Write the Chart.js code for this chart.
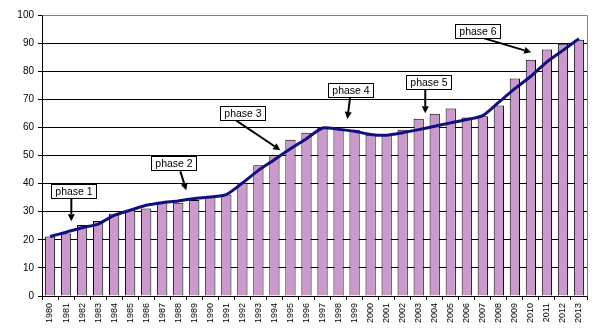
<!DOCTYPE html>
<html>
<head>
<meta charset="utf-8">
<script src="https://cdn.jsdelivr.net/npm/chart.js@4/dist/chart.umd.min.js"></script>
<style>
  html, body { margin: 0; padding: 0; background: #fff; }
  #wrap { width: 597px; height: 330px; position: relative; }
</style>
</head>
<body>
<div id="wrap"><canvas id="myChart"></canvas></div>
<script>
'use strict';

var years = ['1980', '1981', '1982', '1983', '1984', '1985', '1986', '1987', '1988', '1989',
	'1990', '1991', '1992', '1993', '1994', '1995', '1996', '1997', '1998', '1999',
	'2000', '2001', '2002', '2003', '2004', '2005', '2006', '2007', '2008', '2009',
	'2010', '2011', '2012', '2013'];

var yearly = [21.2, 22.2, 25.3, 26.7, 29.3, 30.7, 31.1, 33.5, 33.2, 34.2,
	35.2, 36.1, 40.3, 46.5, 50.1, 55.6, 58.1, 59.8, 59.6, 59.2,
	57.4, 57.2, 59.2, 63.1, 64.9, 66.7, 63.5, 64.0, 67.8, 77.4,
	84.1, 87.7, 89.8, 91.2];

var trend = [21.2, 22.7, 24.3, 25.6, 28.7, 30.5, 32.3, 33.2, 33.8, 34.7,
	35.2, 36.1, 40.2, 44.7, 48.5, 52.4, 56.0, 59.8, 59.3, 58.6,
	57.5, 57.2, 58.1, 59.2, 60.4, 61.6, 62.8, 64.2, 69.0, 73.8,
	78.2, 83.3, 87.4, 91.6];

var yTicks = [0, 10, 20, 30, 40, 50, 60, 70, 80, 90, 100];

var phaseNames = ['phase 1', 'phase 2', 'phase 3', 'phase 4', 'phase 5', 'phase 6'];

// label box centre and arrow ends, in (category index, value) units
var phaseMarks = [
	{ box: [1.49, 37.2], from: [1.33, 34.6], to: [1.33, 26.6] },
	{ box: [7.69, 47.3], from: [8.13, 44.4], to: [8.5, 37.6] },
	{ box: [12.03, 65.2], from: [11.62, 62.4], to: [14.37, 51.9] },
	{ box: [18.76, 73.3], from: [18.73, 71.0], to: [18.55, 63.0] },
	{ box: [23.6, 76.3], from: [23.41, 73.7], to: [23.41, 65.0] },
	{ box: [26.64, 94.4], from: [26.72, 92.3], to: [30.02, 86.7] }
];

var fontFamily = '"Liberation Sans", Arial, sans-serif';

function drawArrow(ctx, x1, y1, x2, y2) {
	var ang = Math.atan2(y2 - y1, x2 - x1);
	var head = 7;
	var bx = x2 - Math.cos(ang) * head;
	var by = y2 - Math.sin(ang) * head;
	ctx.beginPath();
	ctx.moveTo(x1, y1);
	ctx.lineTo(bx, by);
	ctx.lineWidth = 2;
	ctx.strokeStyle = '#000';
	ctx.stroke();
	ctx.beginPath();
	ctx.moveTo(x2, y2);
	ctx.lineTo(bx + Math.cos(ang + Math.PI / 2) * 3.5, by + Math.sin(ang + Math.PI / 2) * 3.5);
	ctx.lineTo(bx + Math.cos(ang - Math.PI / 2) * 3.5, by + Math.sin(ang - Math.PI / 2) * 3.5);
	ctx.closePath();
	ctx.fillStyle = '#000';
	ctx.fill();
}

var phaseLabels = {
	id: 'phaseLabels',
	afterDatasetsDraw: function (chart) {
		var ctx = chart.ctx;
		var xs = chart.scales.x;
		var ys = chart.scales.y;
		ctx.save();
		ctx.font = '10.5px ' + fontFamily;
		for (var i = 0; i < phaseMarks.length; i++) {
			var m = phaseMarks[i];
			drawArrow(ctx,
				xs.getPixelForValue(m.from[0]), ys.getPixelForValue(m.from[1]),
				xs.getPixelForValue(m.to[0]), ys.getPixelForValue(m.to[1]));

			var cx = xs.getPixelForValue(m.box[0]);
			var cy = ys.getPixelForValue(m.box[1]);
			var w = Math.round(ctx.measureText(phaseNames[i]).width + 8);
			var h = 14;
			var left = Math.round(cx - w / 2) + 0.5;
			var top = Math.round(cy - h / 2) + 0.5;
			ctx.fillStyle = '#fff';
			ctx.fillRect(left, top, w, h);
			ctx.lineWidth = 1;
			ctx.strokeStyle = '#000';
			ctx.strokeRect(left, top, w, h);
			ctx.fillStyle = '#000';
			ctx.textAlign = 'center';
			ctx.textBaseline = 'middle';
			ctx.fillText(phaseNames[i], left + w / 2, top + h / 2 + 0.5);
		}
		ctx.restore();
	}
};

// grey frame on the top and right side of the plot area
var plotFrame = {
	id: 'plotFrame',
	beforeDatasetsDraw: function (chart) {
		var a = chart.chartArea;
		var ctx = chart.ctx;
		ctx.save();
		ctx.strokeStyle = '#808080';
		ctx.lineWidth = 1;
		ctx.beginPath();
		ctx.moveTo(Math.round(a.left) + 0.5, Math.round(a.top) + 0.5);
		ctx.lineTo(Math.round(a.right) + 0.5, Math.round(a.top) + 0.5);
		ctx.lineTo(Math.round(a.right) + 0.5, Math.round(a.bottom) + 0.5);
		ctx.stroke();
		ctx.restore();
	}
};

var ctx = document.getElementById('myChart').getContext('2d');

var myChart = new Chart(ctx, {
	type: 'bar',
	data: {
		labels: years,
		datasets: [{
			type: 'line',
			label: 'trend',
			data: trend,
			borderColor: '#101080',
			borderWidth: 3,
			pointRadius: 0,
			tension: 0.2,
			fill: false,
			order: 0
		}, {
			label: 'yearly',
			data: yearly,
			backgroundColor: '#CC99CC',
			borderColor: '#000',
			borderWidth: 1,
			barPercentage: 0.64,
			categoryPercentage: 1,
			order: 1
		}]
	},
	options: {
		responsive: true,
		maintainAspectRatio: false,
		animation: false,
		devicePixelRatio: 1,
		layout: { padding: { top: 15, right: 10, left: 0, bottom: 0 } },
		plugins: {
			legend: { display: false },
			tooltip: { enabled: false }
		},
		scales: {
			x: {
				offset: true,
				grid: {
					offset: true,
					drawOnChartArea: false,
					drawTicks: true,
					tickLength: 4,
					color: '#000'
				},
				border: { color: '#000', width: 1 },
				ticks: {
					autoSkip: false,
					minRotation: 90,
					maxRotation: 90,
					padding: 3,
					color: '#000',
					font: { family: fontFamily, size: 9 }
				},
				afterFit: function (scale) { scale.height = 34; }
			},
			y: {
				min: 0,
				max: 100,
				afterBuildTicks: function (scale) {
					scale.ticks = yTicks.map(function (v) { return { value: v }; });
				},
				grid: {
					color: '#000',
					tickLength: 4,
					drawTicks: true
				},
				border: { color: '#000', width: 1 },
				ticks: {
					padding: 4,
					color: '#000',
					font: { family: fontFamily, size: 10 }
				},
				afterFit: function (scale) { scale.width = 42; }
			}
		}
	},
	plugins: [plotFrame, phaseLabels]
});
</script>
</body>
</html>
